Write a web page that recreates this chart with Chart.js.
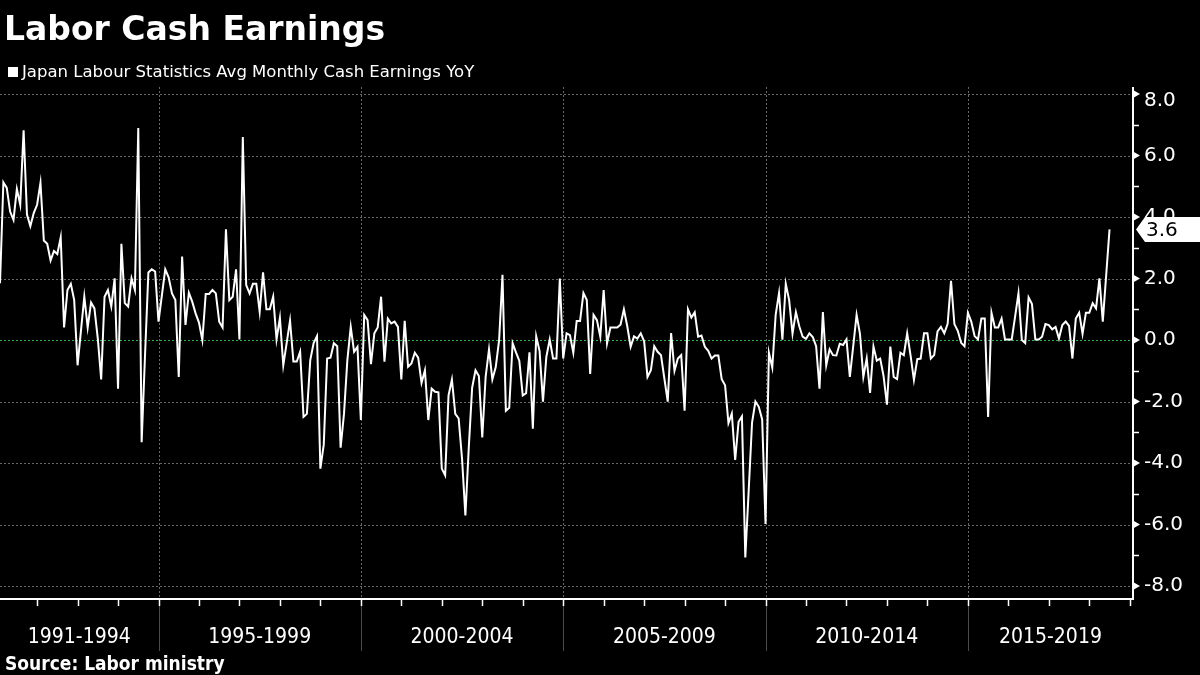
<!DOCTYPE html>
<html>
<head>
<meta charset="utf-8">
<script src="https://cdn.jsdelivr.net/npm/chart.js@4.4.1/dist/chart.umd.min.js"></script>
<style>
  html, body { margin: 0; padding: 0; background: #000; }
  #wrap { position: relative; width: 1200px; height: 675px; overflow: hidden; background: #000; }
  #chart { position: absolute; left: 0; top: 0; }
  .title { position: absolute; left: 4px; top: 9px; line-height: 1; font: bold 33px 'DejaVu Sans', sans-serif; color: #fff; white-space: nowrap; }
  .legend { position: absolute; left: 8px; top: 62px; line-height: 1; font: 16.5px 'DejaVu Sans', sans-serif; color: #fff; white-space: nowrap; }
  .legend i { display: inline-block; width: 10px; height: 10px; background: #fff; margin-right: 4px; vertical-align: 0; }
  .source { position: absolute; left: 5px; top: 652px; line-height: 1; font: bold 19px 'DejaVu Sans Condensed', 'DejaVu Sans', sans-serif; color: #fff; white-space: nowrap; }
</style>
</head>
<body>
<div id="wrap">
  <canvas id="chart" width="1200" height="675"></canvas>
  <div class="title">Labor Cash Earnings</div>
  <div class="legend"><i></i>Japan Labour Statistics Avg Monthly Cash Earnings YoY</div>
  <div class="source">Source: Labor ministry</div>
</div>
<script>
// Monthly YoY % change, starting Feb 1991 (one row per 12 months)
const FIRST_YEAR = 1991;
const FIRST_MONTH = 2;
const earningsYoY = [
  1.85, 5.13, 4.95, 4.18, 3.91, 4.91, 4.40, 6.82, 4.08, 3.70, 4.13, 4.40,
  5.11, 3.24, 3.13, 2.59, 2.90, 2.80, 3.34, 0.41, 1.63, 1.83, 1.30, -0.82,
  0.30, 1.41, 0.41, 1.22, 1.03, 0.05, -1.28, 1.41, 1.63, 1.09, 2.01, -1.58,
  3.13, 1.20, 1.09, 2.01, 1.63, 6.90, -3.32, -0.50, 2.20, 2.30, 2.23, 0.60,
  1.45, 2.30, 2.04, 1.52, 1.30, -1.20, 2.72, 0.49, 1.54, 1.25, 0.87, 0.57,
  0.00, 1.50, 1.50, 1.63, 1.52, 0.60, 0.41, 3.60, 1.30, 1.41, 2.30, 0.02,
  6.60, 1.79, 1.52, 1.83, 1.83, 0.92, 2.20, 1.00, 1.00, 1.41, 0.02, 0.72,
  -0.82, -0.10, 0.63, -0.70, -0.70, -0.38, -2.50, -2.40, -0.65, -0.10, 0.13, -4.18,
  -3.40, -0.60, -0.57, -0.10, -0.20, -3.50, -2.40, -0.65, 0.43, -0.38, -0.22, -2.60,
  0.82, 0.65, -0.78, 0.22, 0.41, 1.41, -0.70, 0.70, 0.54, 0.60, 0.43, -1.28,
  0.63, -0.87, -0.76, -0.41, -0.57, -1.39, -0.98, -2.60, -1.58, -1.68, -1.70, -4.18,
  -4.40, -1.80, -1.28, -2.40, -2.55, -3.85, -5.70, -3.50, -1.55, -0.98, -1.17, -3.17,
  -1.20, -0.30, -1.28, -0.88, 0.00, 2.12, -2.30, -2.20, -0.10, -0.40, -0.68, -1.80,
  -1.73, -0.40, -2.88, 0.12, -0.36, -2.00, -0.55, 0.02, -0.60, -0.60, 2.00, -0.60,
  0.22, 0.16, -0.41, 0.62, 0.62, 1.53, 1.30, -1.10, 0.82, 0.65, 0.11, 1.63,
  -0.11, 0.41, 0.41, 0.41, 0.50, 1.00, 0.45, -0.22, 0.12, 0.05, 0.22, -0.04,
  -1.20, -0.98, -0.20, -0.38, -0.49, -1.25, -2.00, 0.23, -1.00, -0.60, -0.49, -2.30,
  1.00, 0.73, 0.90, 0.11, 0.15, -0.22, -0.35, -0.60, -0.50, -0.50, -1.27, -1.47,
  -2.70, -2.39, -3.90, -2.66, -2.48, -7.07, -4.90, -2.68, -2.00, -2.17, -2.58, -5.98,
  -0.41, -0.89, 0.82, 1.53, 0.01, 1.83, 1.30, 0.21, 0.91, 0.45, 0.11, 0.04,
  0.22, 0.10, -0.20, -1.58, 0.91, -0.82, -0.30, -0.49, -0.50, -0.12, -0.16, 0.02,
  -1.20, -0.20, 0.82, 0.20, -1.20, -0.60, -1.72, -0.21, -0.67, -0.60, -1.17, -2.10,
  -0.21, -1.20, -1.27, -0.41, -0.49, 0.22, -0.50, -1.30, -0.62, -0.60, 0.22, 0.22,
  -0.60, -0.49, 0.28, 0.43, 0.22, 0.53, 1.93, 0.52, 0.30, -0.09, -0.20, 0.89,
  0.60, 0.13, 0.02, 0.70, 0.70, -2.50, 0.89, 0.41, 0.41, 0.70, 0.02, 0.02,
  0.02, 0.76, 1.52, 0.00, -0.10, 1.39, 1.17, 0.02, 0.02, 0.11, 0.52, 0.49,
  0.35, 0.43, 0.05, 0.49, 0.60, 0.46, -0.60, 0.70, 0.89, 0.20, 0.89, 0.89,
  1.20, 1.03, 2.01, 0.60, 2.10, 3.60
];

const GROUP_LABELS = ['1991-1994', '1995-1999', '2000-2004', '2005-2009', '2010-2014', '2015-2019'];
const GROUP_STARTS = [1995, 2000, 2005, 2010, 2015];
const YEAR_TICKS = [1992, 1993, 1994, 1995, 1996, 1997, 1998, 1999, 2000, 2001, 2002, 2003, 2004, 2005,
  2006, 2007, 2008, 2009, 2010, 2011, 2012, 2013, 2014, 2015, 2016, 2017, 2018, 2019];
const Y_LABEL_TICKS = [-8, -6, -4, -2, 0, 2, 4, 6, 8];
const Y_MINOR_TICKS = [-7, -5, -3, -1, 1, 3, 5, 7];

const X_MIN = FIRST_YEAR + (FIRST_MONTH - 1) / 12;
const X_MAX = 2019.08;
const Y_MIN = -8.42;
const Y_MAX = 8.23;

const points = earningsYoY.map((v, i) => ({ x: X_MIN + i / 12, y: v }));

// group label positions: middle of each visible 5-year block
const bounds = [X_MIN, ...GROUP_STARTS, X_MAX];
const groupCenters = GROUP_LABELS.map((_, i) => (bounds[i] + bounds[i + 1]) / 2);

const COLORS = {
  line: '#ffffff',
  grid: '#666666',
  zero: '#33b54a',
  sep: '#4a4a4a',
  text: '#ffffff',
};

const overlay = {
  id: 'overlay',
  beforeDatasetsDraw(chart) {
    const { ctx, chartArea: a, scales: { x, y } } = chart;
    ctx.save();
    ctx.lineWidth = 1;

    // dashed horizontal grid
    ctx.strokeStyle = COLORS.grid;
    ctx.setLineDash([2, 2]);
    for (const v of Y_LABEL_TICKS) {
      if (v === 0) continue;
      const py = Math.round(y.getPixelForValue(v)) + 0.5;
      ctx.beginPath(); ctx.moveTo(a.left, py); ctx.lineTo(a.right, py); ctx.stroke();
    }

    // group separators: dashed inside the plot, solid under the axis
    for (const yr of GROUP_STARTS) {
      const px = Math.round(x.getPixelForValue(yr)) + 0.5;
      ctx.strokeStyle = COLORS.grid;
      ctx.setLineDash([2, 2]);
      ctx.beginPath(); ctx.moveTo(px, a.top); ctx.lineTo(px, a.bottom); ctx.stroke();
      ctx.strokeStyle = COLORS.sep;
      ctx.setLineDash([]);
      ctx.beginPath(); ctx.moveTo(px, a.bottom); ctx.lineTo(px, a.bottom + 52); ctx.stroke();
    }

    // zero line
    ctx.strokeStyle = COLORS.zero;
    ctx.setLineDash([2, 2]);
    const y0 = Math.round(y.getPixelForValue(0)) + 0.5;
    ctx.beginPath(); ctx.moveTo(a.left, y0); ctx.lineTo(a.right, y0); ctx.stroke();
    ctx.restore();
  },
  afterDraw(chart) {
    const { ctx, chartArea: a, scales: { x, y } } = chart;
    ctx.save();
    ctx.strokeStyle = COLORS.text;
    ctx.fillStyle = COLORS.text;

    // axis lines
    ctx.lineWidth = 2;
    ctx.beginPath(); ctx.moveTo(a.left, a.bottom); ctx.lineTo(a.right + 1, a.bottom); ctx.stroke();
    ctx.beginPath(); ctx.moveTo(a.right, a.top); ctx.lineTo(a.right, a.bottom); ctx.stroke();

    // year ticks
    ctx.lineWidth = 1.5;
    for (const yr of YEAR_TICKS) {
      const px = Math.round(x.getPixelForValue(yr)) + 0.5;
      ctx.beginPath(); ctx.moveTo(px, a.bottom); ctx.lineTo(px, a.bottom + 7); ctx.stroke();
    }

    // y minor ticks and major arrow marks
    for (const v of Y_MINOR_TICKS) {
      const py = Math.round(y.getPixelForValue(v)) + 0.5;
      ctx.beginPath(); ctx.moveTo(a.right, py); ctx.lineTo(a.right + 6, py); ctx.stroke();
    }
    for (const v of Y_LABEL_TICKS) {
      const py = y.getPixelForValue(v);
      ctx.beginPath();
      ctx.moveTo(a.right, py - 4); ctx.lineTo(a.right + 7, py); ctx.lineTo(a.right, py + 4);
      ctx.closePath(); ctx.fill();
    }

    // last value tag
    const last = earningsYoY[earningsYoY.length - 1];
    const py = y.getPixelForValue(last);
    const tx = a.right + 3;
    ctx.beginPath();
    ctx.moveTo(tx, py);
    ctx.lineTo(tx + 9, py - 12.5);
    ctx.lineTo(1200, py - 12.5);
    ctx.lineTo(1200, py + 12.5);
    ctx.lineTo(tx + 9, py + 12.5);
    ctx.closePath();
    ctx.fill();
    ctx.fillStyle = '#000';
    ctx.font = "20px 'DejaVu Sans'";
    ctx.textBaseline = 'middle';
    ctx.textAlign = 'left';
    ctx.fillText(last.toFixed(1), tx + 10, py + 1);
    ctx.restore();
  }
};

new Chart(document.getElementById('chart'), {
  type: 'line',
  data: {
    datasets: [{
      label: 'Japan Labour Statistics Avg Monthly Cash Earnings YoY',
      data: points,
      borderColor: COLORS.line,
      borderWidth: 2,
      pointRadius: 0,
      tension: 0,
      fill: false,
    }]
  },
  options: {
    responsive: false,
    animation: false,
    devicePixelRatio: 1,
    layout: { padding: { top: 87, left: 0, right: 0, bottom: 0 } },
    plugins: {
      legend: { display: false },
      tooltip: { enabled: false },
    },
    scales: {
      x: {
        type: 'linear',
        min: X_MIN,
        max: X_MAX,
        grid: { display: false, drawTicks: false },
        border: { display: false },
        afterFit: s => { s.height = 76; },
        afterBuildTicks: s => { s.ticks = groupCenters.map(v => ({ value: v })); },
        ticks: {
          color: COLORS.text,
          font: { family: "'DejaVu Sans Condensed', 'DejaVu Sans'", size: 21 },
          padding: 26,
          autoSkip: false,
          maxRotation: 0,
          callback: (v, i) => GROUP_LABELS[i],
        }
      },
      y: {
        position: 'right',
        min: Y_MIN,
        max: Y_MAX,
        grid: { display: false, drawTicks: false },
        border: { display: false },
        afterFit: s => { s.width = 67; },
        afterBuildTicks: s => { s.ticks = Y_LABEL_TICKS.map(v => ({ value: v })); },
        ticks: {
          color: COLORS.text,
          // top label sits a little lower, as in the reference
          font: c => ({
            family: "'DejaVu Sans'",
            size: 20,
            lineHeight: c.tick && c.tick.value === 8 ? 0.65 : 1.2,
          }),
          padding: 11,
          callback: v => (v === 8 ? ['', v.toFixed(1)] : v.toFixed(1)),
        }
      }
    }
  },
  plugins: [overlay]
});
</script>
</body>
</html>
